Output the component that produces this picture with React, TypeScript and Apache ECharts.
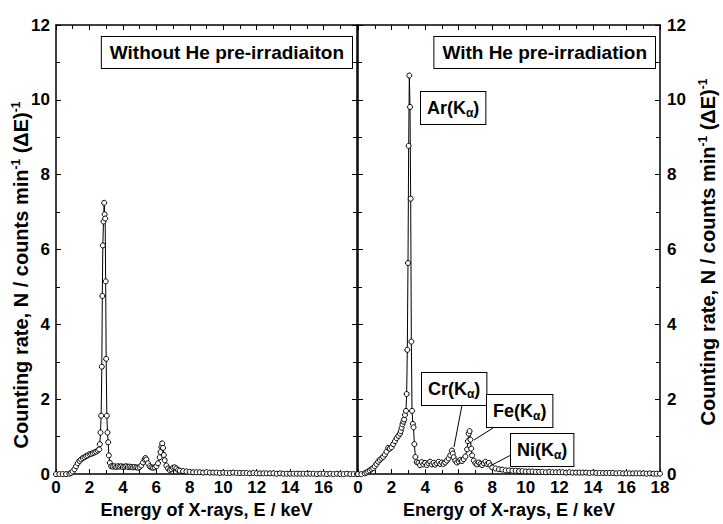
import React, { useEffect, useRef } from 'react';
import * as echarts from 'echarts';

// ---- data (energy keV, counting rate) ----
const withoutHe: [number, number][] = [
  [0, 0], [0.2, 0], [0.4, 0], [0.6, 0], [0.8, 0.01], [0.9, 0.03], [1.0, 0.07], [1.1, 0.13], [1.2, 0.21],
  [1.3, 0.29], [1.4, 0.35], [1.5, 0.39], [1.6, 0.43], [1.7, 0.45], [1.8, 0.48], [1.9, 0.5], [2.0, 0.53],
  [2.1, 0.54], [2.2, 0.56], [2.3, 0.58], [2.4, 0.6], [2.5, 0.63], [2.58, 0.66], [2.62, 0.8], [2.66, 1.11],
  [2.7, 1.56], [2.74, 2.87], [2.77, 4.76], [2.8, 6.11], [2.84, 6.75], [2.88, 7.25], [2.91, 6.94], [2.94, 6.83],
  [2.97, 5.15], [3.0, 3.08], [3.04, 1.56], [3.08, 1.11], [3.12, 0.85], [3.16, 0.5], [3.22, 0.3], [3.3, 0.21],
  [3.4, 0.2], [3.5, 0.21], [3.6, 0.19], [3.7, 0.21], [3.8, 0.2], [3.9, 0.21], [4.0, 0.19], [4.1, 0.2],
  [4.2, 0.21], [4.3, 0.19], [4.4, 0.2], [4.5, 0.19], [4.6, 0.18], [4.7, 0.19], [4.8, 0.18], [4.9, 0.17],
  [5.0, 0.19], [5.1, 0.23], [5.2, 0.31], [5.3, 0.39], [5.35, 0.43], [5.4, 0.39], [5.5, 0.29], [5.6, 0.21],
  [5.7, 0.18], [5.8, 0.17], [5.9, 0.18], [6.0, 0.21], [6.1, 0.29], [6.2, 0.45], [6.25, 0.59], [6.3, 0.73],
  [6.35, 0.82], [6.4, 0.7], [6.45, 0.51], [6.5, 0.37], [6.6, 0.23], [6.7, 0.15], [6.8, 0.11], [6.9, 0.13],
  [7.0, 0.17], [7.1, 0.18], [7.2, 0.15], [7.3, 0.11], [7.4, 0.09], [7.6, 0.08], [7.8, 0.07], [8.0, 0.06],
  [8.2, 0.05], [8.4, 0.05], [8.6, 0.05], [8.8, 0.04], [9.0, 0.05], [9.2, 0.04], [9.4, 0.04], [9.6, 0.04],
  [9.8, 0.03], [10.0, 0.04], [10.2, 0.03], [10.4, 0.03], [10.6, 0.04], [10.8, 0.03], [11.0, 0.03],
  [11.2, 0.03], [11.4, 0.03], [11.6, 0.02], [11.8, 0.03], [12.0, 0.02], [12.2, 0.02], [12.4, 0.02],
  [12.6, 0.02], [12.8, 0.02], [13.0, 0.02], [13.2, 0.01], [13.4, 0.02], [13.6, 0.01], [13.8, 0.01],
  [14.0, 0.01], [14.2, 0.01], [14.4, 0.01], [14.6, 0.01], [14.8, 0.01], [15.0, 0.01], [15.2, 0.01],
  [15.4, 0.01], [15.6, 0.0], [15.8, 0.01], [16.0, 0.01], [16.2, 0.0], [16.4, 0.01], [16.6, 0.0],
  [16.8, 0.01], [17.0, 0.0], [17.2, 0.0], [17.4, 0.01], [17.6, 0.0], [17.8, 0.0], [18.0, 0.0],
];

const withHe: [number, number][] = [
  [0, 0], [0.2, 0], [0.4, 0.02], [0.5, 0.04], [0.6, 0.07], [0.7, 0.1], [0.8, 0.13], [0.9, 0.16], [1.0, 0.21],
  [1.1, 0.27], [1.2, 0.33], [1.3, 0.38], [1.4, 0.42], [1.5, 0.46], [1.6, 0.52], [1.7, 0.6], [1.8, 0.7],
  [1.9, 0.68], [2.0, 0.72], [2.1, 0.8], [2.2, 0.88], [2.3, 0.96], [2.4, 1.02], [2.5, 1.08], [2.55, 1.15],
  [2.6, 1.24], [2.65, 1.33], [2.7, 1.4], [2.75, 1.46], [2.8, 1.58], [2.86, 1.69], [2.9, 2.14], [2.94, 3.32],
  [2.98, 5.64], [3.02, 8.77], [3.06, 10.65], [3.1, 9.81], [3.14, 7.36], [3.18, 3.54], [3.22, 1.69],
  [3.27, 1.34], [3.31, 1.25], [3.36, 0.8], [3.42, 0.46], [3.5, 0.32], [3.6, 0.3], [3.7, 0.24], [3.8, 0.32],
  [3.9, 0.26], [4.0, 0.3], [4.1, 0.24], [4.2, 0.29], [4.3, 0.33], [4.4, 0.26], [4.5, 0.3], [4.6, 0.25],
  [4.7, 0.29], [4.8, 0.33], [4.9, 0.27], [5.0, 0.31], [5.1, 0.27], [5.2, 0.31], [5.3, 0.36], [5.4, 0.42],
  [5.5, 0.5], [5.6, 0.63], [5.65, 0.55], [5.7, 0.45], [5.8, 0.36], [5.9, 0.31], [6.0, 0.34], [6.1, 0.38],
  [6.2, 0.35], [6.3, 0.4], [6.4, 0.47], [6.5, 0.66], [6.55, 0.88], [6.6, 1.08], [6.65, 1.15], [6.7, 0.92],
  [6.75, 0.68], [6.8, 0.5], [6.9, 0.36], [7.0, 0.29], [7.1, 0.26], [7.2, 0.31], [7.3, 0.27], [7.4, 0.24],
  [7.5, 0.29], [7.6, 0.33], [7.7, 0.27], [7.8, 0.3], [7.9, 0.23], [8.0, 0.18], [8.2, 0.15], [8.4, 0.13],
  [8.6, 0.12], [8.8, 0.1], [9.0, 0.1], [9.2, 0.09], [9.4, 0.09], [9.6, 0.08], [9.8, 0.08], [10.0, 0.07],
  [10.2, 0.07], [10.4, 0.07], [10.6, 0.06], [10.8, 0.06], [11.0, 0.06], [11.2, 0.05], [11.4, 0.06],
  [11.6, 0.05], [11.8, 0.05], [12.0, 0.05], [12.2, 0.05], [12.4, 0.04], [12.6, 0.05], [12.8, 0.04],
  [13.0, 0.04], [13.2, 0.04], [13.4, 0.04], [13.6, 0.04], [13.8, 0.03], [14.0, 0.04], [14.2, 0.03],
  [14.4, 0.03], [14.6, 0.03], [14.8, 0.03], [15.0, 0.03], [15.2, 0.03], [15.4, 0.02], [15.6, 0.03],
  [15.8, 0.02], [16.0, 0.02], [16.2, 0.02], [16.4, 0.02], [16.6, 0.02], [16.8, 0.02], [17.0, 0.02],
  [17.2, 0.01], [17.4, 0.02], [17.6, 0.01], [17.8, 0.01], [18.0, 0.01],
];

// ---- axes ----
const xRange = { min: 0, max: 18, interval: 2 };
const yRange = { min: 0, max: 12, interval: 2 };

const panelTitles = ['Without He pre-irradiaiton', 'With He pre-irradiation'];
const xAxisTitle = 'Energy of X-rays, E / keV';
const yAxisTitle = '{a|Counting rate, N / counts min}{s|-1}{a| (ΔE)}{s|-1}';
const peakLabels = ['Ar', 'Cr', 'Fe', 'Ni'];

const FONT = '"Liberation Sans", Arial, Helvetica, sans-serif';

const lineStyle = { color: '#000', width: 1.5 };
const tick = { show: true, inside: true, length: 5, lineStyle: { color: '#000', width: 1 } };
const minor = { show: true, splitNumber: 2, length: 4, lineStyle: { color: '#000', width: 1 } };
const tickLabel = { color: '#000', fontFamily: FONT, fontWeight: 'bold', fontSize: 17 };

function xAx(gridIndex: number, position: string, showLabel: boolean, showMax: boolean, name?: string) {
  return {
    type: 'value', gridIndex, position, ...xRange,
    axisLine: { show: true, onZero: false, lineStyle },
    axisTick: tick, minorTick: minor,
    splitLine: { show: false },
    axisLabel: { show: showLabel, margin: 5, showMaxLabel: showMax, ...tickLabel },
    name, nameLocation: 'middle', nameGap: 26,
    nameTextStyle: { fontFamily: FONT, fontWeight: 'bold', fontSize: 18, color: '#000' },
  };
}

function yAx(gridIndex: number, position: string, showLabel: boolean, margin: number) {
  return {
    type: 'value', gridIndex, position, ...yRange,
    axisLine: { show: true, onZero: false, lineStyle },
    axisTick: tick, minorTick: minor,
    splitLine: { show: false },
    axisLabel: { show: showLabel, margin, ...tickLabel },
  };
}

const boxStyle = {
  fontFamily: FONT, fontWeight: 'bold', fill: '#000',
  backgroundColor: '#fff', borderColor: '#000', borderWidth: 1,
};
const kRich = {
  b: { fontFamily: FONT, fontWeight: 'bold', fontSize: 18, fill: '#000', lineHeight: 22 },
  s: { fontFamily: FONT, fontWeight: 'bold', fontSize: 12, fill: '#000', lineHeight: 14, verticalAlign: 'bottom' },
};
function peakBox(el: string, x: number, y: number) {
  return {
    type: 'text', x, y, z: 100,
    style: { ...boxStyle, fontSize: 18, text: `{b|${el}(K}{s|α}{b|)}`, rich: kRich, padding: [5, 6, 5, 6] },
  };
}
function titleBox(text: string, right: number) {
  return {
    type: 'text', x: right, y: 37, z: 100,
    style: { ...boxStyle, fontSize: 19, lineHeight: 23, text, align: 'right', padding: [4, 8, 4, 8] },
  };
}
const yRich = {
  a: { fontFamily: FONT, fontWeight: 'bold', fontSize: 20, fill: '#000', lineHeight: 22 },
  s: { fontFamily: FONT, fontWeight: 'bold', fontSize: 12, fill: '#000', lineHeight: 12, verticalAlign: 'top' },
};
function yTitle(x: number, y: number) {
  return {
    type: 'text', x, y, rotation: Math.PI / 2, z: 50,
    style: { text: yAxisTitle, rich: yRich, align: 'center', verticalAlign: 'middle', fill: '#000' },
  };
}

const seriesStyle = {
  type: 'line', symbol: 'circle', symbolSize: 5, showAllSymbol: true,
  lineStyle: { color: '#000', width: 1 },
  itemStyle: { color: '#fff', borderColor: '#000', borderWidth: 1 },
  emphasis: { disabled: true }, silent: true,
};

const option = {
  animation: false,
  backgroundColor: '#fff',
  grid: [
    { left: 56, top: 25, width: 301, height: 452 },
    { left: 358, top: 25, width: 302, height: 452 },
  ],
  xAxis: [
    xAx(0, 'bottom', true, false, xAxisTitle),
    xAx(0, 'top', false, false),
    xAx(1, 'bottom', true, true, xAxisTitle),
    xAx(1, 'top', false, false),
  ],
  yAxis: [
    yAx(0, 'left', true, 6),
    yAx(0, 'right', false, 6),
    yAx(1, 'left', false, 6),
    yAx(1, 'right', true, 7),
  ],
  series: [
    { ...seriesStyle, xAxisIndex: 0, yAxisIndex: 0, data: withoutHe },
    {
      ...seriesStyle, xAxisIndex: 2, yAxisIndex: 3, data: withHe,
      markLine: {
        silent: true, symbol: ['none', 'arrow'], symbolSize: [0, 7],
        label: { show: false },
        lineStyle: { color: '#000', width: 1, type: 'solid' },
        data: [
          [{ x: 462, y: 405 }, { x: 454, y: 447 }],
          [{ x: 493, y: 428 }, { x: 474, y: 440 }],
          [{ x: 511, y: 455 }, { x: 490, y: 466 }],
        ],
      },
    },
  ],
  graphic: [
    titleBox(panelTitles[0], 352),
    titleBox(panelTitles[1], 655),
    peakBox(peakLabels[0], 421, 92),
    peakBox(peakLabels[1], 422, 373),
    peakBox(peakLabels[2], 487, 395),
    peakBox(peakLabels[3], 511, 434),
    yTitle(21, 275),
    yTitle(708, 252),
  ],
};

export default function App() {
  const ref = useRef<HTMLDivElement>(null);
  useEffect(() => {
    const chart = echarts.init(ref.current!, null, { renderer: 'svg' });
    chart.setOption(option as any);
    return () => chart.dispose();
  }, []);
  return <div ref={ref} style={{ position: 'absolute', left: 0, top: 0, width: 723, height: 524 }} />;
}
